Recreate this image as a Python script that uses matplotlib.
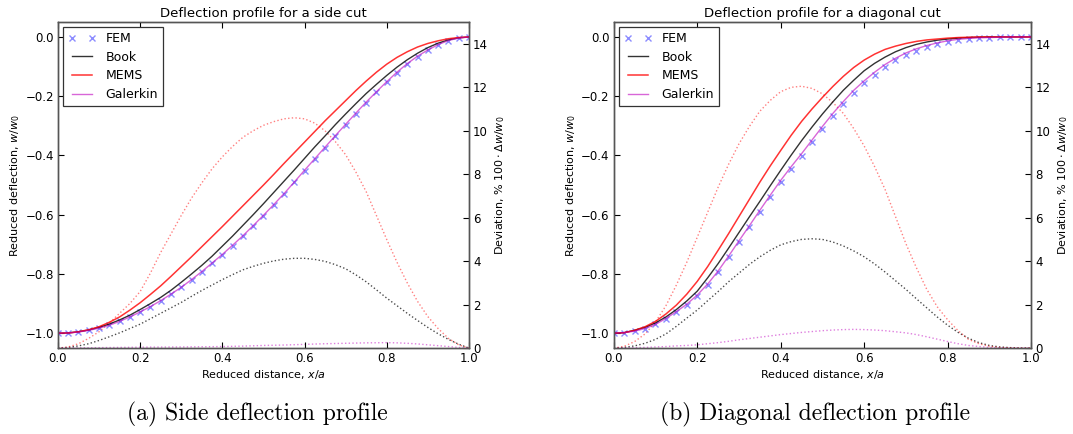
import matplotlib
matplotlib.use("Agg")
import matplotlib.pyplot as plt

# sample positions along the cut (step 0.025)
x_pts = [0.000, 0.025, 0.050, 0.075, 0.100, 0.125, 0.150, 0.175, 0.200, 0.225,
         0.250, 0.275, 0.300, 0.325, 0.350, 0.375, 0.400, 0.425, 0.450, 0.475,
         0.500, 0.525, 0.550, 0.575, 0.600, 0.625, 0.650, 0.675, 0.700, 0.725,
         0.750, 0.775, 0.800, 0.825, 0.850, 0.875, 0.900, 0.925, 0.950, 0.975, 1.000]

# side cut
side_fem = [-1.000, -0.999, -0.996, -0.990, -0.983, -0.973, -0.960, -0.945, -0.928, -0.910,
            -0.890, -0.868, -0.845, -0.819, -0.792, -0.764, -0.735, -0.704, -0.672, -0.638,
            -0.603, -0.567, -0.530, -0.491, -0.452, -0.413, -0.374, -0.335, -0.297, -0.259,
            -0.222, -0.187, -0.153, -0.121, -0.092, -0.067, -0.045, -0.027, -0.013, -0.004, 0.000]
side_book = [-1.000, -0.999, -0.995, -0.989, -0.980, -0.969, -0.955, -0.939, -0.920, -0.900,
             -0.879, -0.855, -0.828, -0.800, -0.771, -0.740, -0.706, -0.672, -0.636, -0.600,
             -0.563, -0.525, -0.487, -0.449, -0.410, -0.371, -0.334, -0.296, -0.260, -0.225,
             -0.191, -0.160, -0.130, -0.102, -0.077, -0.055, -0.036, -0.021, -0.010, -0.003, 0.000]
side_mems = [-1.000, -0.999, -0.995, -0.988, -0.978, -0.963, -0.945, -0.922, -0.897, -0.869,
             -0.840, -0.808, -0.775, -0.742, -0.708, -0.674, -0.640, -0.605, -0.570, -0.535,
             -0.500, -0.464, -0.427, -0.391, -0.355, -0.319, -0.283, -0.249, -0.215, -0.181,
             -0.149, -0.119, -0.092, -0.069, -0.050, -0.034, -0.022, -0.013, -0.006, -0.002, 0.000]
side_galerkin = [-1.000, -0.999, -0.996, -0.990, -0.983, -0.973, -0.960, -0.945, -0.928, -0.910,
                 -0.890, -0.868, -0.845, -0.819, -0.792, -0.763, -0.734, -0.703, -0.671, -0.637,
                 -0.602, -0.566, -0.529, -0.490, -0.450, -0.411, -0.372, -0.333, -0.295, -0.257,
                 -0.220, -0.185, -0.151, -0.119, -0.090, -0.065, -0.044, -0.026, -0.012, -0.004, 0.000]
side_dev_book = [0.00, 0.03, 0.10, 0.20, 0.35, 0.52, 0.70, 0.90, 1.10, 1.35,
                 1.60, 1.85, 2.10, 2.38, 2.65, 2.90, 3.15, 3.38, 3.60, 3.76,
                 3.90, 4.01, 4.09, 4.13, 4.13, 4.08, 3.99, 3.84, 3.65, 3.37,
                 3.05, 2.68, 2.30, 1.95, 1.60, 1.27, 0.95, 0.66, 0.40, 0.18, 0.00]
side_dev_mems = [0.00, 0.05, 0.20, 0.45, 0.75, 1.15, 1.60, 2.05, 2.60, 3.45,
                 4.40, 5.25, 6.10, 6.90, 7.60, 8.25, 8.80, 9.28, 9.70, 10.00,
                 10.25, 10.42, 10.55, 10.60, 10.55, 10.35, 10.00, 9.50, 8.90, 8.10,
                 7.20, 6.10, 5.00, 3.95, 3.00, 2.15, 1.45, 0.90, 0.45, 0.15, 0.00]
side_dev_galerkin = [0.000, 0.005, 0.010, 0.015, 0.020, 0.025, 0.030, 0.035, 0.040, 0.043,
                     0.045, 0.048, 0.050, 0.055, 0.060, 0.065, 0.070, 0.080, 0.090, 0.105,
                     0.120, 0.130, 0.140, 0.155, 0.170, 0.185, 0.200, 0.210, 0.220, 0.230,
                     0.240, 0.245, 0.250, 0.240, 0.220, 0.190, 0.150, 0.110, 0.070, 0.030, 0.000]

# diagonal cut
diag_fem = [-1.000, -0.998, -0.993, -0.984, -0.970, -0.951, -0.928, -0.903, -0.873, -0.836,
            -0.792, -0.743, -0.692, -0.641, -0.590, -0.540, -0.490, -0.445, -0.401, -0.356,
            -0.310, -0.266, -0.226, -0.189, -0.156, -0.127, -0.101, -0.079, -0.061, -0.046,
            -0.034, -0.024, -0.016, -0.010, -0.006, -0.003, -0.002, -0.001, 0.000, 0.000, 0.000]
diag_book = [-1.000, -0.998, -0.990, -0.980, -0.965, -0.945, -0.920, -0.891, -0.858, -0.813,
             -0.765, -0.713, -0.660, -0.607, -0.555, -0.502, -0.450, -0.399, -0.350, -0.304,
             -0.260, -0.219, -0.180, -0.146, -0.114, -0.089, -0.068, -0.050, -0.036, -0.025,
             -0.017, -0.011, -0.007, -0.004, -0.002, -0.001, 0.000, 0.000, 0.000, 0.000, 0.000]
diag_mems = [-1.000, -0.998, -0.990, -0.978, -0.960, -0.935, -0.905, -0.868, -0.825, -0.775,
             -0.720, -0.664, -0.606, -0.548, -0.490, -0.435, -0.383, -0.332, -0.285, -0.243,
             -0.204, -0.167, -0.133, -0.103, -0.078, -0.058, -0.042, -0.031, -0.022, -0.015,
             -0.010, -0.007, -0.004, -0.002, -0.001, 0.000, 0.000, 0.000, 0.000, 0.000, 0.000]
diag_galerkin = [-1.000, -0.998, -0.993, -0.984, -0.970, -0.950, -0.927, -0.902, -0.871, -0.834,
                 -0.790, -0.740, -0.688, -0.637, -0.585, -0.534, -0.484, -0.438, -0.394, -0.348,
                 -0.302, -0.258, -0.218, -0.180, -0.148, -0.119, -0.093, -0.072, -0.054, -0.040,
                 -0.029, -0.020, -0.013, -0.008, -0.005, -0.003, -0.002, -0.001, 0.000, 0.000, 0.000]
diag_dev_book = [0.00, 0.03, 0.10, 0.22, 0.40, 0.65, 1.00, 1.38, 1.75, 2.18,
                 2.60, 3.05, 3.45, 3.85, 4.20, 4.50, 4.75, 4.90, 5.00, 5.03,
                 5.00, 4.88, 4.70, 4.47, 4.20, 3.87, 3.50, 3.10, 2.70, 2.27,
                 1.85, 1.43, 1.05, 0.72, 0.45, 0.25, 0.12, 0.05, 0.02, 0.005, 0.00]
diag_dev_mems = [0.00, 0.08, 0.30, 0.65, 1.20, 1.95, 2.90, 3.95, 5.10, 6.25,
                 7.40, 8.45, 9.40, 10.20, 10.90, 11.40, 11.80, 12.00, 12.05, 11.95,
                 11.70, 11.30, 10.80, 10.10, 9.30, 8.35, 7.30, 6.05, 4.80, 3.70,
                 2.70, 1.90, 1.30, 0.80, 0.40, 0.20, 0.08, 0.03, 0.01, 0.00, 0.00]
diag_dev_galerkin = [0.00, 0.01, 0.02, 0.03, 0.05, 0.07, 0.10, 0.12, 0.15, 0.20,
                     0.25, 0.31, 0.38, 0.44, 0.50, 0.56, 0.62, 0.67, 0.72, 0.76,
                     0.80, 0.83, 0.85, 0.86, 0.85, 0.83, 0.80, 0.75, 0.70, 0.62,
                     0.52, 0.41, 0.30, 0.20, 0.12, 0.07, 0.03, 0.01, 0.00, 0.00, 0.00]

titles = ["Deflection profile for a side cut", "Deflection profile for a diagonal cut"]
captions = ["(a) Side deflection profile", "(b) Diagonal deflection profile"]

panels = [
    (side_fem, side_book, side_mems, side_galerkin, side_dev_book, side_dev_mems, side_dev_galerkin),
    (diag_fem, diag_book, diag_mems, diag_galerkin, diag_dev_book, diag_dev_mems, diag_dev_galerkin),
]

fig = plt.figure(figsize=(10.73, 4.34), dpi=100)
fig.patch.set_facecolor("white")
positions = [[0.054, 0.198, 0.383, 0.751], [0.572, 0.198, 0.389, 0.751]]
caption_x = [0.24, 0.76]

for i, (fem, book, mems, gal, dbook, dmems, dgal) in enumerate(panels):
    ax = fig.add_axes(positions[i])
    ax2 = ax.twinx()

    # deviations on the right axis (dotted)
    ax2.plot(x_pts, dbook, ":", color="k", lw=1, alpha=0.7)
    ax2.plot(x_pts, dmems, ":", color="r", lw=1, alpha=0.5)
    ax2.plot(x_pts, dgal, ":", color="m", lw=1, alpha=0.5)
    ax2.set_ylim(0, 15)
    ax2.set_ylabel("Deviation, % $100 \\cdot \\Delta w/w_0$", fontsize=8)

    ax.plot(x_pts, fem, "x", color="b", ms=5, mew=1, alpha=0.45, label="FEM")
    ax.plot(x_pts, book, "-", color="k", lw=1, alpha=0.8, label="Book")
    ax.plot(x_pts, mems, "-", color="r", lw=1.1, alpha=0.8, label="MEMS")
    ax.plot(x_pts, gal, "-", color="m", lw=1, alpha=0.6, label="Galerkin")
    ax.set_xlim(0, 1)
    ax.set_ylim(-1.05, 0.05)
    ax.set_xticks([0.0, 0.2, 0.4, 0.6, 0.8, 1.0])
    ax.set_yticks([-1.0, -0.8, -0.6, -0.4, -0.2, 0.0])
    ax.set_title(titles[i], fontsize=9.5, pad=4)
    ax.set_xlabel("Reduced distance, $x/a$", fontsize=8, labelpad=2)
    ax.set_ylabel("Reduced deflection, $w/w_0$", fontsize=8, labelpad=2)

    ax.tick_params(direction="in", top=True, labelsize=8.5, length=4, pad=3)
    ax2.tick_params(direction="in", labelsize=8.5, length=4, pad=3)
    for a in (ax, ax2):
        for s in a.spines.values():
            s.set_color("#555555")
            s.set_linewidth(1)

    leg = ax.legend(loc="upper left", numpoints=2, fontsize=9, fancybox=False,
                    framealpha=1, edgecolor="#333333", handlelength=2.2,
                    borderaxespad=0.4, labelspacing=0.45)
    leg.get_frame().set_linewidth(0.9)
    ax.set_zorder(ax2.get_zorder() + 1)
    ax.patch.set_visible(False)

    fig.text(caption_x[i], 0.045, captions[i], ha="center", va="center",
             fontsize=17, family="cmr10")

fig.savefig("out.png", dpi=100)
